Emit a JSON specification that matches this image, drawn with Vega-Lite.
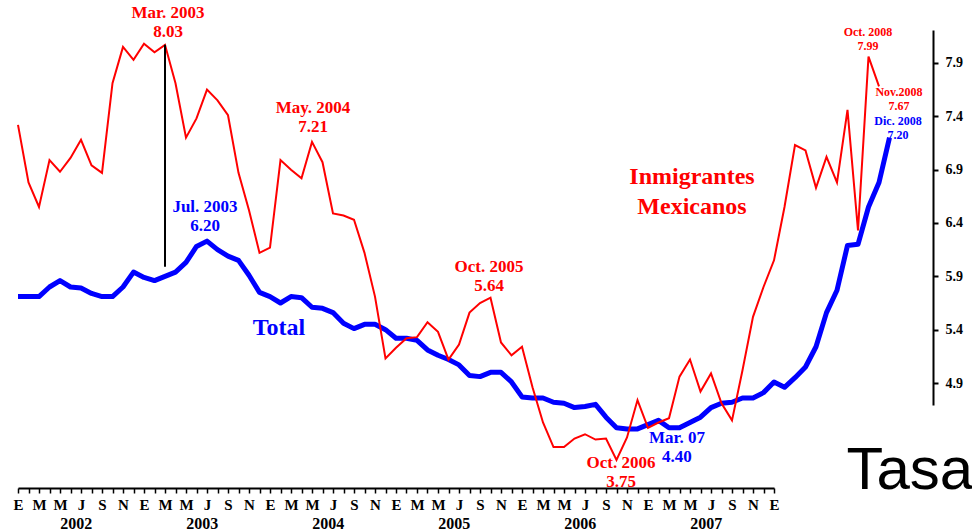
{
  "$schema": "https://vega.github.io/schema/vega-lite/v6.json",
  "width": 933,
  "height": 488,
  "autosize": {"type": "none"},
  "padding": {"left": 0, "top": 0, "right": 39, "bottom": 44},
  "background": "white",
  "config": {
    "view": {"stroke": null},
    "font": "Liberation Serif",
    "axis": {"grid": false, "labelFont": "Liberation Serif", "labelFontWeight": "bold", "labelColor": "black", "domainColor": "black", "tickColor": "black"}
  },
  "datasets": {
    "serie": [
      {"mes":0,"serie":"Total","tasa":5.71},{"mes":1,"serie":"Total","tasa":5.71},{"mes":2,"serie":"Total","tasa":5.71},{"mes":3,"serie":"Total","tasa":5.80},{"mes":4,"serie":"Total","tasa":5.86},{"mes":5,"serie":"Total","tasa":5.80},{"mes":6,"serie":"Total","tasa":5.79},{"mes":7,"serie":"Total","tasa":5.74},{"mes":8,"serie":"Total","tasa":5.71},{"mes":9,"serie":"Total","tasa":5.71},{"mes":10,"serie":"Total","tasa":5.80},{"mes":11,"serie":"Total","tasa":5.94},
      {"mes":12,"serie":"Total","tasa":5.89},{"mes":13,"serie":"Total","tasa":5.86},{"mes":14,"serie":"Total","tasa":5.90},{"mes":15,"serie":"Total","tasa":5.94},{"mes":16,"serie":"Total","tasa":6.03},{"mes":17,"serie":"Total","tasa":6.18},{"mes":18,"serie":"Total","tasa":6.23},{"mes":19,"serie":"Total","tasa":6.15},{"mes":20,"serie":"Total","tasa":6.09},{"mes":21,"serie":"Total","tasa":6.05},{"mes":22,"serie":"Total","tasa":5.91},{"mes":23,"serie":"Total","tasa":5.75},
      {"mes":24,"serie":"Total","tasa":5.71},{"mes":25,"serie":"Total","tasa":5.65},{"mes":26,"serie":"Total","tasa":5.71},{"mes":27,"serie":"Total","tasa":5.70},{"mes":28,"serie":"Total","tasa":5.61},{"mes":29,"serie":"Total","tasa":5.60},{"mes":30,"serie":"Total","tasa":5.56},{"mes":31,"serie":"Total","tasa":5.46},{"mes":32,"serie":"Total","tasa":5.41},{"mes":33,"serie":"Total","tasa":5.45},{"mes":34,"serie":"Total","tasa":5.45},{"mes":35,"serie":"Total","tasa":5.40},
      {"mes":36,"serie":"Total","tasa":5.32},{"mes":37,"serie":"Total","tasa":5.32},{"mes":38,"serie":"Total","tasa":5.30},{"mes":39,"serie":"Total","tasa":5.21},{"mes":40,"serie":"Total","tasa":5.16},{"mes":41,"serie":"Total","tasa":5.12},{"mes":42,"serie":"Total","tasa":5.07},{"mes":43,"serie":"Total","tasa":4.97},{"mes":44,"serie":"Total","tasa":4.96},{"mes":45,"serie":"Total","tasa":5.00},{"mes":46,"serie":"Total","tasa":5.00},{"mes":47,"serie":"Total","tasa":4.91},
      {"mes":48,"serie":"Total","tasa":4.77},{"mes":49,"serie":"Total","tasa":4.76},{"mes":50,"serie":"Total","tasa":4.76},{"mes":51,"serie":"Total","tasa":4.72},{"mes":52,"serie":"Total","tasa":4.71},{"mes":53,"serie":"Total","tasa":4.67},{"mes":54,"serie":"Total","tasa":4.68},{"mes":55,"serie":"Total","tasa":4.70},{"mes":56,"serie":"Total","tasa":4.58},{"mes":57,"serie":"Total","tasa":4.48},{"mes":58,"serie":"Total","tasa":4.47},{"mes":59,"serie":"Total","tasa":4.47},
      {"mes":60,"serie":"Total","tasa":4.51},{"mes":61,"serie":"Total","tasa":4.55},{"mes":62,"serie":"Total","tasa":4.48},{"mes":63,"serie":"Total","tasa":4.48},{"mes":64,"serie":"Total","tasa":4.53},{"mes":65,"serie":"Total","tasa":4.58},{"mes":66,"serie":"Total","tasa":4.67},{"mes":67,"serie":"Total","tasa":4.71},{"mes":68,"serie":"Total","tasa":4.72},{"mes":69,"serie":"Total","tasa":4.76},{"mes":70,"serie":"Total","tasa":4.76},{"mes":71,"serie":"Total","tasa":4.81},
      {"mes":72,"serie":"Total","tasa":4.91},{"mes":73,"serie":"Total","tasa":4.86},{"mes":74,"serie":"Total","tasa":4.95},{"mes":75,"serie":"Total","tasa":5.05},{"mes":76,"serie":"Total","tasa":5.24},{"mes":77,"serie":"Total","tasa":5.56},{"mes":78,"serie":"Total","tasa":5.77},{"mes":79,"serie":"Total","tasa":6.19},{"mes":80,"serie":"Total","tasa":6.20},{"mes":81,"serie":"Total","tasa":6.55},{"mes":82,"serie":"Total","tasa":6.78},{"mes":83,"serie":"Total","tasa":7.20},
      {"mes":0,"serie":"Inmigrantes Mexicanos","tasa":7.32},{"mes":1,"serie":"Inmigrantes Mexicanos","tasa":6.78},{"mes":2,"serie":"Inmigrantes Mexicanos","tasa":6.55},{"mes":3,"serie":"Inmigrantes Mexicanos","tasa":6.99},{"mes":4,"serie":"Inmigrantes Mexicanos","tasa":6.88},{"mes":5,"serie":"Inmigrantes Mexicanos","tasa":7.01},{"mes":6,"serie":"Inmigrantes Mexicanos","tasa":7.18},{"mes":7,"serie":"Inmigrantes Mexicanos","tasa":6.94},{"mes":8,"serie":"Inmigrantes Mexicanos","tasa":6.87},{"mes":9,"serie":"Inmigrantes Mexicanos","tasa":7.71},{"mes":10,"serie":"Inmigrantes Mexicanos","tasa":8.05},{"mes":11,"serie":"Inmigrantes Mexicanos","tasa":7.93},
      {"mes":12,"serie":"Inmigrantes Mexicanos","tasa":8.08},{"mes":13,"serie":"Inmigrantes Mexicanos","tasa":8.00},{"mes":14,"serie":"Inmigrantes Mexicanos","tasa":8.07},{"mes":15,"serie":"Inmigrantes Mexicanos","tasa":7.71},{"mes":16,"serie":"Inmigrantes Mexicanos","tasa":7.20},{"mes":17,"serie":"Inmigrantes Mexicanos","tasa":7.38},{"mes":18,"serie":"Inmigrantes Mexicanos","tasa":7.65},{"mes":19,"serie":"Inmigrantes Mexicanos","tasa":7.55},{"mes":20,"serie":"Inmigrantes Mexicanos","tasa":7.41},{"mes":21,"serie":"Inmigrantes Mexicanos","tasa":6.87},{"mes":22,"serie":"Inmigrantes Mexicanos","tasa":6.52},{"mes":23,"serie":"Inmigrantes Mexicanos","tasa":6.12},
      {"mes":24,"serie":"Inmigrantes Mexicanos","tasa":6.17},{"mes":25,"serie":"Inmigrantes Mexicanos","tasa":6.99},{"mes":26,"serie":"Inmigrantes Mexicanos","tasa":6.90},{"mes":27,"serie":"Inmigrantes Mexicanos","tasa":6.82},{"mes":28,"serie":"Inmigrantes Mexicanos","tasa":7.16},{"mes":29,"serie":"Inmigrantes Mexicanos","tasa":6.97},{"mes":30,"serie":"Inmigrantes Mexicanos","tasa":6.49},{"mes":31,"serie":"Inmigrantes Mexicanos","tasa":6.47},{"mes":32,"serie":"Inmigrantes Mexicanos","tasa":6.43},{"mes":33,"serie":"Inmigrantes Mexicanos","tasa":6.12},{"mes":34,"serie":"Inmigrantes Mexicanos","tasa":5.71},{"mes":35,"serie":"Inmigrantes Mexicanos","tasa":5.13},
      {"mes":36,"serie":"Inmigrantes Mexicanos","tasa":5.23},{"mes":37,"serie":"Inmigrantes Mexicanos","tasa":5.32},{"mes":38,"serie":"Inmigrantes Mexicanos","tasa":5.33},{"mes":39,"serie":"Inmigrantes Mexicanos","tasa":5.47},{"mes":40,"serie":"Inmigrantes Mexicanos","tasa":5.38},{"mes":41,"serie":"Inmigrantes Mexicanos","tasa":5.12},{"mes":42,"serie":"Inmigrantes Mexicanos","tasa":5.26},{"mes":43,"serie":"Inmigrantes Mexicanos","tasa":5.56},{"mes":44,"serie":"Inmigrantes Mexicanos","tasa":5.65},{"mes":45,"serie":"Inmigrantes Mexicanos","tasa":5.70},{"mes":46,"serie":"Inmigrantes Mexicanos","tasa":5.28},{"mes":47,"serie":"Inmigrantes Mexicanos","tasa":5.16},
      {"mes":48,"serie":"Inmigrantes Mexicanos","tasa":5.24},{"mes":49,"serie":"Inmigrantes Mexicanos","tasa":4.86},{"mes":50,"serie":"Inmigrantes Mexicanos","tasa":4.53},{"mes":51,"serie":"Inmigrantes Mexicanos","tasa":4.30},{"mes":52,"serie":"Inmigrantes Mexicanos","tasa":4.30},{"mes":53,"serie":"Inmigrantes Mexicanos","tasa":4.38},{"mes":54,"serie":"Inmigrantes Mexicanos","tasa":4.42},{"mes":55,"serie":"Inmigrantes Mexicanos","tasa":4.37},{"mes":56,"serie":"Inmigrantes Mexicanos","tasa":4.38},{"mes":57,"serie":"Inmigrantes Mexicanos","tasa":4.18},{"mes":58,"serie":"Inmigrantes Mexicanos","tasa":4.39},{"mes":59,"serie":"Inmigrantes Mexicanos","tasa":4.74},
      {"mes":60,"serie":"Inmigrantes Mexicanos","tasa":4.48},{"mes":61,"serie":"Inmigrantes Mexicanos","tasa":4.53},{"mes":62,"serie":"Inmigrantes Mexicanos","tasa":4.57},{"mes":63,"serie":"Inmigrantes Mexicanos","tasa":4.96},{"mes":64,"serie":"Inmigrantes Mexicanos","tasa":5.12},{"mes":65,"serie":"Inmigrantes Mexicanos","tasa":4.82},{"mes":66,"serie":"Inmigrantes Mexicanos","tasa":4.99},{"mes":67,"serie":"Inmigrantes Mexicanos","tasa":4.71},{"mes":68,"serie":"Inmigrantes Mexicanos","tasa":4.55},{"mes":69,"serie":"Inmigrantes Mexicanos","tasa":5.02},{"mes":70,"serie":"Inmigrantes Mexicanos","tasa":5.52},{"mes":71,"serie":"Inmigrantes Mexicanos","tasa":5.80},
      {"mes":72,"serie":"Inmigrantes Mexicanos","tasa":6.05},{"mes":73,"serie":"Inmigrantes Mexicanos","tasa":6.55},{"mes":74,"serie":"Inmigrantes Mexicanos","tasa":7.13},{"mes":75,"serie":"Inmigrantes Mexicanos","tasa":7.08},{"mes":76,"serie":"Inmigrantes Mexicanos","tasa":6.73},{"mes":77,"serie":"Inmigrantes Mexicanos","tasa":7.02},{"mes":78,"serie":"Inmigrantes Mexicanos","tasa":6.78},{"mes":79,"serie":"Inmigrantes Mexicanos","tasa":7.46},{"mes":80,"serie":"Inmigrantes Mexicanos","tasa":6.33},{"mes":81,"serie":"Inmigrantes Mexicanos","tasa":7.96},{"mes":82,"serie":"Inmigrantes Mexicanos","tasa":7.68}
    ],
    "notas": [
      {"mes":14.29,"tasa":8.368,"texto":"Mar. 2003\n8.03","serie":"Inmigrantes Mexicanos"},
      {"mes":17.81,"tasa":6.55,"texto":"Jul. 2003\n6.20","serie":"Total"},
      {"mes":28.1,"tasa":7.478,"texto":"May. 2004\n7.21","serie":"Inmigrantes Mexicanos"},
      {"mes":44.86,"tasa":5.987,"texto":"Oct. 2005\n5.64","serie":"Inmigrantes Mexicanos"},
      {"mes":57.43,"tasa":4.15,"texto":"Oct. 2006\n3.75","serie":"Inmigrantes Mexicanos"},
      {"mes":62.76,"tasa":4.384,"texto":"Mar. 07\n4.40","serie":"Total"},
      {"mes":80.95,"tasa":8.19,"texto":"Oct. 2008\n7.99","serie":"Inmigrantes Mexicanos"},
      {"mes":83.9,"tasa":7.627,"texto":"Nov.2008\n7.67","serie":"Inmigrantes Mexicanos"},
      {"mes":83.81,"tasa":7.36,"texto":"Dic. 2008\n7.20","serie":"Total"}
    ],
    "nombres": [
      {"mes":64.19,"tasa":6.831,"texto":"Inmigrantes\nMexicanos","serie":"Inmigrantes Mexicanos"},
      {"mes":24.86,"tasa":5.415,"texto":"Total","serie":"Total"}
    ],
    "marca": [
      {"mes":14,"tasa":8.07,"tasa2":5.99}
    ]
  },
  "resolve": {"axis": {"x": "independent", "y": "independent"}},
  "layer": [
    {
      "data": {"name": "serie"},
      "transform": [{"filter": "datum.serie === 'Total'"}],
      "mark": {"type": "line", "strokeWidth": 5, "strokeJoin": "round"},
      "encoding": {
        "x": {"field": "mes", "type": "quantitative",
          "scale": {"domain": [0, 72], "range": [18, 774], "nice": false, "zero": false},
          "axis": {"orient": "bottom", "title": null,
            "values": [0,1,2,3,4,5,6,7,8,9,10,11,12,13,14,15,16,17,18,19,20,21,22,23,24,25,26,27,28,29,30,31,32,33,34,35,36,37,38,39,40,41,42,43,44,45,46,47,48,49,50,51,52,53,54,55,56,57,58,59,60,61,62,63,64,65,66,67,68,69,70,71,72],
            "labelExpr": "datum.value % 2 == 0 ? ['E','F','M','A','M','J','J','A','S','O','N','D'][datum.value % 12] : ''",
            "labelFontSize": 15, "tickSize": 5, "tickWidth": 1.5, "domainWidth": 2, "labelPadding": 4,
            "labelOverlap": false, "labelFlush": false, "labelBound": false}},
        "y": {"field": "tasa", "type": "quantitative",
          "scale": {"domain": [4.694, 8.209], "range": [405, 30], "nice": false, "zero": false},
          "axis": null},
        "color": {"field": "serie", "type": "nominal",
          "scale": {"domain": ["Inmigrantes Mexicanos", "Total"], "range": ["#ff0000", "#0000ff"]}, "legend": null}
      }
    },
    {
      "data": {"name": "serie"},
      "transform": [{"filter": "datum.serie !== 'Total'"}],
      "mark": {"type": "line", "strokeWidth": 2},
      "encoding": {
        "x": {"field": "mes", "type": "quantitative", "axis": null},
        "y": {"field": "tasa", "type": "quantitative",
          "axis": {"orient": "right", "title": "Tasa",
            "values": [4.9, 5.4, 5.9, 6.4, 6.9, 7.4, 7.9], "format": ".1f",
            "labelFontSize": 14, "tickSize": 5, "tickWidth": 2, "domainWidth": 2, "labelPadding": 7,
            "labelOverlap": false, "labelBound": false,
            "titleAngle": 0, "titleX": -87, "titleY": 488, "titleAlign": "left", "titleBaseline": "alphabetic",
            "titleFont": "Liberation Sans", "titleFontSize": 60, "titleFontWeight": "normal", "titleColor": "black"}},
        "color": {"field": "serie", "type": "nominal", "legend": null}
      }
    },
    {
      "data": {"name": "marca"},
      "mark": {"type": "rule", "color": "black", "strokeWidth": 2},
      "encoding": {
        "x": {"field": "mes", "type": "quantitative",
          "axis": {"orient": "bottom", "title": null, "values": [5.5, 17.5, 29.5, 41.5, 53.5, 65.5],
            "labelExpr": "'' + (2002 + floor(datum.value / 12))",
            "domain": false, "ticks": false, "tickSize": 0, "labelPadding": 27, "labelFontSize": 16,
            "labelOverlap": false, "labelFlush": false, "labelBound": false}},
        "y": {"field": "tasa", "type": "quantitative", "axis": null},
        "y2": {"field": "tasa2"}
      }
    },
    {
      "data": {"name": "notas"},
      "transform": [{"filter": "datum.mes < 80"}],
      "mark": {"type": "text", "font": "Liberation Serif", "fontWeight": "bold", "fontSize": 17, "lineBreak": "\n", "lineHeight": 19, "baseline": "middle", "align": "center"},
      "encoding": {
        "x": {"field": "mes", "type": "quantitative", "axis": null},
        "y": {"field": "tasa", "type": "quantitative", "axis": null},
        "text": {"field": "texto", "type": "nominal"},
        "color": {"field": "serie", "type": "nominal", "legend": null}
      }
    },
    {
      "data": {"name": "notas"},
      "transform": [{"filter": "datum.mes >= 80"}],
      "mark": {"type": "text", "font": "Liberation Serif", "fontWeight": "bold", "fontSize": 12, "lineBreak": "\n", "lineHeight": 14, "baseline": "middle", "align": "center"},
      "encoding": {
        "x": {"field": "mes", "type": "quantitative", "axis": null},
        "y": {"field": "tasa", "type": "quantitative", "axis": null},
        "text": {"field": "texto", "type": "nominal"},
        "color": {"field": "serie", "type": "nominal", "legend": null}
      }
    },
    {
      "data": {"name": "nombres"},
      "mark": {"type": "text", "font": "Liberation Serif", "fontWeight": "bold", "fontSize": 24, "lineBreak": "\n", "lineHeight": 30, "baseline": "middle", "align": "center"},
      "encoding": {
        "x": {"field": "mes", "type": "quantitative", "axis": null},
        "y": {"field": "tasa", "type": "quantitative", "axis": null},
        "text": {"field": "texto", "type": "nominal"},
        "color": {"field": "serie", "type": "nominal", "legend": null}
      }
    }
  ]
}
